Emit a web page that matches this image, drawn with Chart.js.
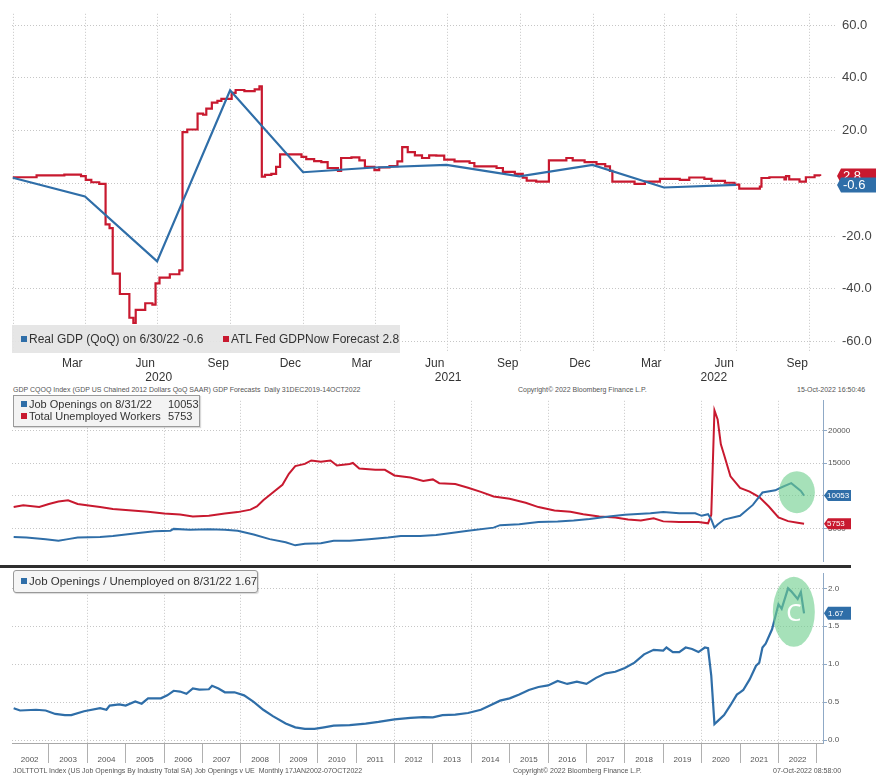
<!DOCTYPE html>
<html>
<head>
<meta charset="utf-8">
<script src="https://cdn.jsdelivr.net/npm/chart.js@4.4.1/dist/chart.umd.min.js"></script>
<style>
  body { margin: 0; background: #fff; font-family: 'Liberation Sans', Arial, sans-serif; }
  #page { position: relative; width: 876px; height: 778px; overflow: hidden; background: #fff; }
  #lower { position: absolute; left: 0; top: 0; width: 851px; height: 778px; overflow: hidden; }
  canvas { position: absolute; left: 0; }
  .legend { position: absolute; color: #333; white-space: nowrap; box-sizing: border-box; }
  .legend .item { position: absolute; top: 0; }
  .legend .row { position: relative; padding-left: 7px; height: 12px; }
  .legend i { display: inline-block; width: 6px; height: 6px; margin-right: 2px; vertical-align: 1px; }
  .foot { position: absolute; font-size: 7px; line-height: 8px; color: #555; white-space: pre; }
</style>
</head>
<body>
<div id="page">
  <canvas id="gdpChart" width="876" height="386" style="top:0"></canvas>
  <div class="legend" style="left:12px;top:325px;width:388px;height:28px;background:rgba(228,228,228,0.92);font-size:12px;line-height:28px">
    <span class="item" style="left:9px"><i style="background:#2f6ea8"></i>Real GDP (QoQ) on 6/30/22 -0.6</span>
    <span class="item" style="left:211px"><i style="background:#c8192f"></i>ATL Fed GDPNow Forecast 2.8</span>
  </div>
  <div class="foot" style="left:13px;top:386px">GDP CQOQ Index (GDP US Chained 2012 Dollars QoQ SAAR) GDP Forecasts  Daily 31DEC2019-14OCT2022</div>
  <div class="foot" style="left:518px;top:386px">Copyright© 2022 Bloomberg Finance L.P.</div>
  <div class="foot" style="left:797px;top:386px">15-Oct-2022 16:50:46</div>

  <div id="lower">
    <canvas id="jobsChart" width="851" height="172" style="top:395px"></canvas>
    <div class="legend" style="left:13px;top:395px;width:187px;height:32px;border:1px solid #9a9a9a;background:#f3f3f3;font-size:11px;line-height:12px;padding-top:2px;box-shadow:1px 1px 1px rgba(0,0,0,0.15)">
      <div class="row"><i style="background:#2f6ea8"></i>Job Openings on 8/31/22<span style="position:absolute;left:154px">10053</span></div>
      <div class="row"><i style="background:#c8192f"></i>Total Unemployed Workers<span style="position:absolute;left:154px">5753</span></div>
    </div>
    <div style="position:absolute;left:0;top:565px;width:851px;height:3px;background:#2e2e2e"></div>
    <canvas id="ratioChart" width="851" height="210" style="top:568px"></canvas>
    <div class="legend" style="left:13px;top:570px;width:245px;height:23px;border:1px solid #999;border-radius:3px;background:#f5f5f5;font-size:11.5px;line-height:21px;padding-left:7px;box-shadow:1px 1px 1px rgba(0,0,0,0.15)"><i style="background:#2f6ea8"></i>Job Openings / Unemployed on 8/31/22 1.67</div>
    <div class="foot" style="left:13px;top:767px">JOLTTOTL Index (US Job Openings By Industry Total SA) Job Openings v UE  Monthly 17JAN2002-07OCT2022</div>
    <div class="foot" style="left:513px;top:767px">Copyright© 2022 Bloomberg Finance L.P.</div>
    <div class="foot" style="left:773px;top:767px">07-Oct-2022 08:58:00</div>
  </div>
</div>

<script>
// ---- top panel: real GDP vs GDPNow ----
const gdpDates = ['2019-12-31', '2020-03-31', '2020-06-30', '2020-09-30', '2020-12-31', '2021-03-31',
  '2021-06-30', '2021-09-30', '2021-12-31', '2022-03-31', '2022-06-30'];
const gdpValues = [2.1, -5.0, -29.6, 35.3, 4.2, 6.0, 7.0, 2.6, 7.0, -1.6, -0.6];

const nowcastDates = ['2019-12-31', '2020-01-30', '2020-03-05', '2020-03-26', '2020-04-01', '2020-04-08',
  '2020-04-18', '2020-04-26', '2020-05-01', '2020-05-05', '2020-05-14', '2020-05-26', '2020-05-31',
  '2020-06-03', '2020-06-15', '2020-06-24', '2020-06-28', '2020-07-03', '2020-07-16', '2020-07-28',
  '2020-08-01', '2020-08-07', '2020-08-20', '2020-08-27', '2020-08-31', '2020-09-07', '2020-09-14',
  '2020-09-19', '2020-10-02', '2020-10-07', '2020-10-18', '2020-10-31', '2020-11-06', '2020-11-09',
  '2020-11-13', '2020-11-21', '2020-11-27', '2020-12-02', '2020-12-29', '2021-01-04', '2021-01-14',
  '2021-01-23', '2021-01-31', '2021-02-13', '2021-02-17', '2021-03-02', '2021-03-12', '2021-03-19',
  '2021-03-31', '2021-04-06', '2021-04-19', '2021-04-29', '2021-05-05', '2021-05-12', '2021-05-21',
  '2021-05-30', '2021-06-08', '2021-06-17', '2021-06-27', '2021-07-10', '2021-07-29', '2021-08-04',
  '2021-09-01', '2021-09-09', '2021-09-24', '2021-10-04', '2021-10-09', '2021-10-21', '2021-11-06',
  '2021-11-28', '2021-12-06', '2021-12-21', '2022-01-05', '2022-01-16', '2022-01-22', '2022-01-25',
  '2022-02-22', '2022-03-07', '2022-03-26', '2022-04-20', '2022-05-02', '2022-05-21', '2022-05-30',
  '2022-06-16', '2022-06-28', '2022-07-04', '2022-07-30', '2022-08-01', '2022-08-11', '2022-08-30',
  '2022-09-01', '2022-09-05', '2022-09-18', '2022-09-26', '2022-10-07', '2022-10-14'];
const nowcastValues = [2.3, 3.0, 3.3, 2.7, 1.3, 0.4,
  -0.2, -15.6, -17.0, -34.3, -42.0, -51.0, -53.0,
  -48.0, -45.5, -46.0, -38.0, -35.8, -34.5, -33.0,
  19.4, 20.4, 26.4, 26.0, 28.3, 30.6, 31.3,
  32.0, 34.3, 35.4, 35.0, 35.6, 36.8, 2.5,
  3.2, 3.6, 6.2, 11.0, 10.0, 9.2, 8.4,
  8.0, 5.8, 4.7, 9.6, 9.8, 8.7, 6.2,
  5.0, 6.0, 6.5, 8.3, 13.7, 11.8, 10.6,
  9.6, 10.6, 10.5, 9.0, 8.3, 7.7, 6.4,
  5.8, 4.3, 3.6, 2.1, 1.0, 0.6, 8.7,
  9.6, 8.7, 8.0, 7.3, 6.4, 4.7, 0.6,
  -0.2, 0.6, 1.7, 1.3, 2.2, 1.7, 0.9,
  0.2, -0.5, -2.0, -1.3, 2.0, 2.3, 1.5,
  2.7, 1.5, 0.6, 2.3, 3.0, 2.8];

const gdpAxisTicks = [-60, -40, -20, 0, 20, 40, 60];
const quarterStarts = ['2020-01-01', '2020-04-01', '2020-07-01', '2020-10-01', '2021-01-01', '2021-04-01',
  '2021-07-01', '2021-10-01', '2022-01-01', '2022-04-01', '2022-07-01', '2022-10-01'];
const monthTickDates = ['2020-03-15', '2020-06-15', '2020-09-15', '2020-12-15', '2021-03-15', '2021-06-15',
  '2021-09-15', '2021-12-15', '2022-03-15', '2022-06-15', '2022-09-15'];
const monthTickLabels = ['Mar', 'Jun', 'Sep', 'Dec', 'Mar', 'Jun', 'Sep', 'Dec', 'Mar', 'Jun', 'Sep'];
const yearTickDates = ['2020-07-02', '2021-07-02', '2022-06-02'];
const yearTickLabels = ['2020', '2021', '2022'];

// ---- middle panel: openings vs unemployed (thousands) ----
const openingsMonths = ['2002-01', '2002-05', '2002-11', '2003-03', '2003-06', '2003-09', '2004-04', '2004-08',
  '2004-12', '2005-04', '2005-09', '2006-02', '2006-03', '2006-08', '2007-02', '2007-07', '2007-11',
  '2008-04', '2008-09', '2009-02', '2009-05', '2009-08', '2010-01', '2010-05', '2010-10', '2011-04',
  '2011-10', '2012-02', '2012-08', '2013-01', '2013-04', '2013-11', '2014-07', '2014-09', '2015-03',
  '2015-09', '2016-03', '2016-08', '2017-01', '2017-07', '2017-12', '2018-08', '2018-12', '2019-05',
  '2019-10', '2019-12', '2020-02', '2020-03', '2020-04', '2020-05', '2020-07', '2020-12', '2021-04',
  '2021-07', '2021-11', '2022-01', '2022-04', '2022-07', '2022-08'];
const openingsValues = [3710, 3620, 3380, 3140, 3380, 3620, 3710, 3860,
  4100, 4330, 4570, 4670, 4950, 4810, 4900, 4810, 4670,
  4100, 3380, 2900, 2430, 2670, 2760, 3140, 3140, 3380,
  3620, 3860, 3860, 4000, 4190, 4670, 5140, 5520, 5660,
  6000, 6100, 6240, 6470, 6860, 7100, 7330, 7530, 7330,
  7330, 6950, 7190, 6400, 5140, 5620, 6380, 6950, 8620,
  10520, 10860, 11330, 11950, 10760, 10053];

const unemployedMonths = ['2002-01', '2002-04', '2002-09', '2002-12', '2003-03', '2003-06', '2003-09', '2004-01',
  '2004-04', '2004-08', '2005-01', '2005-07', '2005-12', '2006-05', '2006-09', '2007-02', '2007-07',
  '2007-11', '2008-03', '2008-05', '2008-07', '2008-10', '2009-01', '2009-03', '2009-05', '2009-08',
  '2009-10', '2010-01', '2010-04', '2010-06', '2010-10', '2010-11', '2011-01', '2011-06', '2011-09',
  '2011-12', '2012-05', '2012-09', '2012-12', '2013-02', '2013-07', '2013-11', '2014-03', '2014-07',
  '2014-12', '2015-05', '2015-09', '2016-02', '2016-07', '2016-11', '2017-04', '2017-09', '2018-01',
  '2018-05', '2018-09', '2018-12', '2019-05', '2019-11', '2020-02', '2020-03', '2020-04', '2020-05',
  '2020-06', '2020-07', '2020-09', '2020-12', '2021-03', '2021-06', '2021-09', '2021-12', '2022-03',
  '2022-06', '2022-08'];
const unemployedValues = [8290, 8570, 8300, 8760, 9140, 9330, 8760, 8480,
  8290, 8000, 7810, 7570, 7290, 7140, 6860, 6950, 7290,
  7520, 7900, 8380, 9330, 10520, 11710, 13380, 14570, 14900,
  15430, 15240, 15430, 14670, 14900, 15050, 14190, 14000, 14000,
  13140, 12810, 12290, 12530, 11950, 11810, 11240, 10620, 9910,
  9570, 8950, 8290, 7760, 7570, 7190, 6860, 6710, 6380,
  6240, 6570, 6100, 6000, 6000, 5800, 7100, 23100, 21700,
  17900, 16300, 13000, 11240, 10670, 9810, 8380, 6710, 6140,
  5900, 5753];

const jobsAxisTicks = [5000, 10000, 15000, 20000];

// ---- bottom panel: openings per unemployed ----
const ratioMonths = ['2002-01', '2002-03', '2002-08', '2002-11', '2003-02', '2003-05', '2003-07', '2003-11',
  '2004-04', '2004-06', '2004-07', '2004-10', '2004-12', '2005-03', '2005-05', '2005-07', '2005-11',
  '2006-01', '2006-03', '2006-05', '2006-07', '2006-09', '2006-11', '2007-02', '2007-03', '2007-05',
  '2007-07', '2007-10', '2008-01', '2008-04', '2008-07', '2008-10', '2009-02', '2009-05', '2009-08',
  '2009-11', '2010-02', '2010-05', '2010-10', '2011-03', '2011-07', '2011-12', '2012-05', '2012-09',
  '2012-12', '2013-03', '2013-07', '2013-11', '2014-03', '2014-06', '2014-09', '2014-12', '2015-03',
  '2015-06', '2015-09', '2015-12', '2016-03', '2016-06', '2016-09', '2016-12', '2017-03', '2017-06',
  '2017-09', '2017-12', '2018-03', '2018-06', '2018-09', '2018-12', '2019-01', '2019-03', '2019-05',
  '2019-07', '2019-09', '2019-11', '2020-01', '2020-02', '2020-03', '2020-04', '2020-05', '2020-07',
  '2020-09', '2020-11', '2020-12', '2021-01', '2021-03', '2021-05', '2021-06', '2021-07', '2021-08',
  '2021-10', '2021-12', '2022-01', '2022-03', '2022-04', '2022-06', '2022-07', '2022-08'];
const ratioValues = [0.42, 0.39, 0.40, 0.39, 0.345, 0.33, 0.33, 0.38,
  0.42, 0.40, 0.455, 0.47, 0.455, 0.51, 0.48, 0.55, 0.55,
  0.59, 0.65, 0.64, 0.61, 0.68, 0.665, 0.67, 0.715, 0.68,
  0.63, 0.63, 0.59, 0.505, 0.40, 0.316, 0.22, 0.168, 0.148,
  0.148, 0.168, 0.19, 0.198, 0.218, 0.24, 0.274, 0.294, 0.303,
  0.30, 0.33, 0.337, 0.357, 0.40, 0.46, 0.52, 0.55, 0.60,
  0.66, 0.70, 0.72, 0.78, 0.74, 0.77, 0.74, 0.82, 0.88,
  0.90, 0.95, 1.02, 1.13, 1.19, 1.18, 1.22, 1.16, 1.16,
  1.22, 1.20, 1.16, 1.22, 1.21, 0.85, 0.21, 0.25, 0.33,
  0.46, 0.60, 0.63, 0.66, 0.80, 0.98, 1.02, 1.22, 1.27,
  1.46, 1.79, 1.73, 2.0, 1.96, 1.86, 1.95, 1.67];

const ratioAxisTicks = [0, 0.5, 1, 1.5, 2];
const yearLabels = ['2002', '2003', '2004', '2005', '2006', '2007', '2008', '2009', '2010', '2011', '2012',
  '2013', '2014', '2015', '2016', '2017', '2018', '2019', '2020', '2021', '2022'];
const gridYears = [2004, 2006, 2008, 2010, 2012, 2014, 2016, 2018, 2020, 2022];

// green highlight spots (data coordinates)
const openingsSpot = { x: 2022.48, y: 10570 };
const ratioSpot = { x: 2022.40, y: 1.69 };

const blue = '#2f6ea8';
const red = '#c8192f';
const gridGray = '#c6c6c6';
const axisBlue = '#8fa9c6';
const dotted = [1, 2];
const clear = 'rgba(0,0,0,0)';

Chart.defaults.font.family = "'Liberation Sans', Arial, sans-serif";

function dayNum(s) {
  const p = s.split('-').map(Number);
  return (Date.UTC(p[0], p[1] - 1, p[2]) - Date.UTC(2019, 11, 31)) / 86400000;
}

// monthly points sit at the end of their month
function monthPos(s) {
  const p = s.split('-').map(Number);
  return p[0] + p[1] / 12;
}

function toPoints(xs, ys, conv) {
  return xs.map((x, i) => ({ x: conv(x), y: ys[i] }));
}

// coloured value tags on the right edge, like the terminal shows
const valueTags = {
  id: 'valueTags',
  afterDraw(chart, args, opts) {
    const { ctx, chartArea, scales } = chart;
    (opts.tags || []).forEach(tag => {
      const data = chart.data.datasets[tag.dataset].data;
      const last = data[data.length - 1].y;
      const y = scales.y.getPixelForValue(last);
      const x0 = chartArea.right + 1;
      const x1 = chart.width;
      const h = opts.height;
      ctx.save();
      ctx.fillStyle = tag.color;
      ctx.beginPath();
      ctx.moveTo(x0, y);
      ctx.lineTo(x0 + 4, y - h / 2);
      ctx.lineTo(x1, y - h / 2);
      ctx.lineTo(x1, y + h / 2);
      ctx.lineTo(x0 + 4, y + h / 2);
      ctx.closePath();
      ctx.fill();
      ctx.fillStyle = '#fff';
      ctx.font = opts.font;
      ctx.textBaseline = 'middle';
      ctx.fillText(last.toFixed(opts.decimals), x0 + opts.textOffset, y + 0.5);
      ctx.restore();
    });
  }
};

const highlight = {
  id: 'highlight',
  afterDatasetsDraw(chart, args, opts) {
    if (!opts.spot) return;
    const { ctx, scales } = chart;
    const cx = scales.x.getPixelForValue(opts.spot.x);
    const cy = scales.y.getPixelForValue(opts.spot.y);
    ctx.save();
    ctx.fillStyle = 'rgba(112, 206, 142, 0.62)';
    ctx.beginPath();
    ctx.ellipse(cx, cy, opts.rx, opts.ry, 0, 0, Math.PI * 2);
    ctx.fill();
    if (opts.letter) {
      ctx.fillStyle = '#fff';
      ctx.font = "24px 'Noto Sans', sans-serif";
      ctx.textAlign = 'center';
      ctx.textBaseline = 'middle';
      ctx.fillText(opts.letter, cx, cy + 2);
    }
    ctx.restore();
  }
};

// ---- top chart ----
const topTicks = [
  ...quarterStarts.map(d => ({ value: dayNum(d), label: '', grid: true })),
  ...monthTickDates.map((d, i) => ({ value: dayNum(d), label: monthTickLabels[i], grid: false })),
  ...yearTickDates.map((d, i) => ({ value: dayNum(d), label: ['', yearTickLabels[i]], grid: false }))
].sort((a, b) => a.value - b.value);

new Chart(document.getElementById('gdpChart'), {
  type: 'line',
  data: {
    datasets: [{
      label: 'Real GDP (QoQ)',
      data: toPoints(gdpDates, gdpValues, dayNum),
      borderColor: blue,
      borderWidth: 2.2,
      pointRadius: 0
    }, {
      label: 'ATL Fed GDPNow Forecast',
      data: toPoints(nowcastDates, nowcastValues, dayNum),
      borderColor: red,
      borderWidth: 2.2,
      pointRadius: 0,
      stepped: true
    }]
  },
  plugins: [valueTags],
  options: {
    responsive: false,
    animation: false,
    layout: { padding: { left: 12, top: 10 } },
    plugins: {
      legend: { display: false },
      tooltip: { enabled: false },
      valueTags: {
        height: 15, font: "13px 'Liberation Sans', Arial", decimals: 1, textOffset: 6,
        tags: [{ dataset: 1, color: red }, { dataset: 0, color: blue }]
      }
    },
    scales: {
      x: {
        type: 'linear',
        min: -1,
        max: 1038,
        afterBuildTicks: s => { s.ticks = topTicks.map(t => ({ value: t.value })); },
        afterFit: s => { s.height = 34; },
        ticks: {
          autoSkip: false, maxRotation: 0, padding: 4,
          font: { size: 12 }, color: '#333',
          callback: (v, i) => topTicks[i].label
        },
        grid: { drawTicks: false, color: c => (topTicks[c.index] && topTicks[c.index].grid) ? gridGray : clear },
        border: { display: false, dash: dotted }
      },
      y: {
        position: 'right',
        min: -64,
        max: 64.3,
        afterBuildTicks: s => { s.ticks = gdpAxisTicks.map(v => ({ value: v })); },
        afterFit: s => { s.width = 40; },
        ticks: { padding: 6, font: { size: 13 }, color: '#444', callback: v => v.toFixed(1) },
        grid: { drawTicks: false, color: gridGray },
        border: { display: false, dash: dotted }
      }
    }
  }
});

// ---- shared x range for the two lower panels ----
const lowerMin = 2002.04;
const lowerMax = 2023.16;

new Chart(document.getElementById('jobsChart'), {
  type: 'line',
  data: {
    datasets: [{
      label: 'Job Openings',
      data: toPoints(openingsMonths, openingsValues, monthPos),
      borderColor: blue,
      borderWidth: 2,
      pointRadius: 0
    }, {
      label: 'Total Unemployed Workers',
      data: toPoints(unemployedMonths, unemployedValues, monthPos),
      borderColor: red,
      borderWidth: 2,
      pointRadius: 0
    }]
  },
  plugins: [highlight, valueTags],
  options: {
    responsive: false,
    animation: false,
    layout: { padding: { left: 12 } },
    plugins: {
      legend: { display: false },
      tooltip: { enabled: false },
      highlight: { spot: openingsSpot, rx: 18, ry: 21 },
      valueTags: {
        height: 11, font: "8px 'Liberation Sans', Arial", decimals: 0, textOffset: 3,
        tags: [{ dataset: 0, color: blue }, { dataset: 1, color: red }]
      }
    },
    scales: {
      x: {
        type: 'linear',
        min: lowerMin,
        max: lowerMax,
        afterBuildTicks: s => { s.ticks = gridYears.map(v => ({ value: v })); },
        afterFit: s => { s.height = 0; },
        ticks: { display: false },
        grid: { drawTicks: false, color: gridGray },
        border: { display: false, dash: dotted }
      },
      y: {
        position: 'right',
        min: 0,
        max: 24570,
        afterBuildTicks: s => { s.ticks = jobsAxisTicks.map(v => ({ value: v })); },
        afterFit: s => { s.width = 28; },
        ticks: { padding: 1, font: { size: 8 }, color: '#555', callback: v => String(v) },
        grid: { color: gridGray, tickColor: axisBlue, tickLength: 4, tickBorderDash: [] },
        border: { display: true, color: axisBlue, dash: dotted }
      }
    }
  }
});

const bottomTicks = [];
yearLabels.forEach(y => {
  const yr = Number(y);
  bottomTicks.push({ value: yr + 0.5, label: y, sep: false, grid: false });
  bottomTicks.push({ value: yr + 1, label: '', sep: true, grid: gridYears.includes(yr + 1) });
});

new Chart(document.getElementById('ratioChart'), {
  type: 'line',
  data: {
    datasets: [{
      label: 'Job Openings / Unemployed',
      data: toPoints(ratioMonths, ratioValues, monthPos),
      borderColor: blue,
      borderWidth: 2.2,
      pointRadius: 0
    }]
  },
  plugins: [highlight, valueTags],
  options: {
    responsive: false,
    animation: false,
    layout: { padding: { left: 12 } },
    plugins: {
      legend: { display: false },
      tooltip: { enabled: false },
      highlight: { spot: ratioSpot, rx: 21, ry: 35, letter: 'C' },
      valueTags: {
        height: 13, font: "8px 'Liberation Sans', Arial", decimals: 2, textOffset: 4,
        tags: [{ dataset: 0, color: blue }]
      }
    },
    scales: {
      x: {
        type: 'linear',
        min: lowerMin,
        max: lowerMax,
        afterBuildTicks: s => { s.ticks = bottomTicks.map(t => ({ value: t.value })); },
        afterFit: s => { s.height = 35; },
        ticks: {
          autoSkip: false, maxRotation: 0, padding: -8,
          font: { size: 8 }, color: '#555',
          callback: (v, i) => bottomTicks[i].label
        },
        grid: {
          color: c => (bottomTicks[c.index] && bottomTicks[c.index].grid) ? gridGray : clear,
          tickColor: c => (bottomTicks[c.index] && bottomTicks[c.index].sep) ? '#b0b0b0' : clear,
          tickLength: 20,
          tickBorderDash: []
        },
        border: { display: true, color: '#a8a8a8', dash: dotted }
      },
      y: {
        position: 'right',
        min: -0.038,
        max: 2.191,
        afterBuildTicks: s => { s.ticks = ratioAxisTicks.map(v => ({ value: v })); },
        afterFit: s => { s.width = 28; },
        ticks: { padding: 1, font: { size: 8 }, color: '#555', callback: v => v.toFixed(1) },
        grid: { color: gridGray, tickColor: axisBlue, tickLength: 4, tickBorderDash: [] },
        border: { display: true, color: axisBlue, dash: dotted }
      }
    }
  }
});
</script>
</body>
</html>
